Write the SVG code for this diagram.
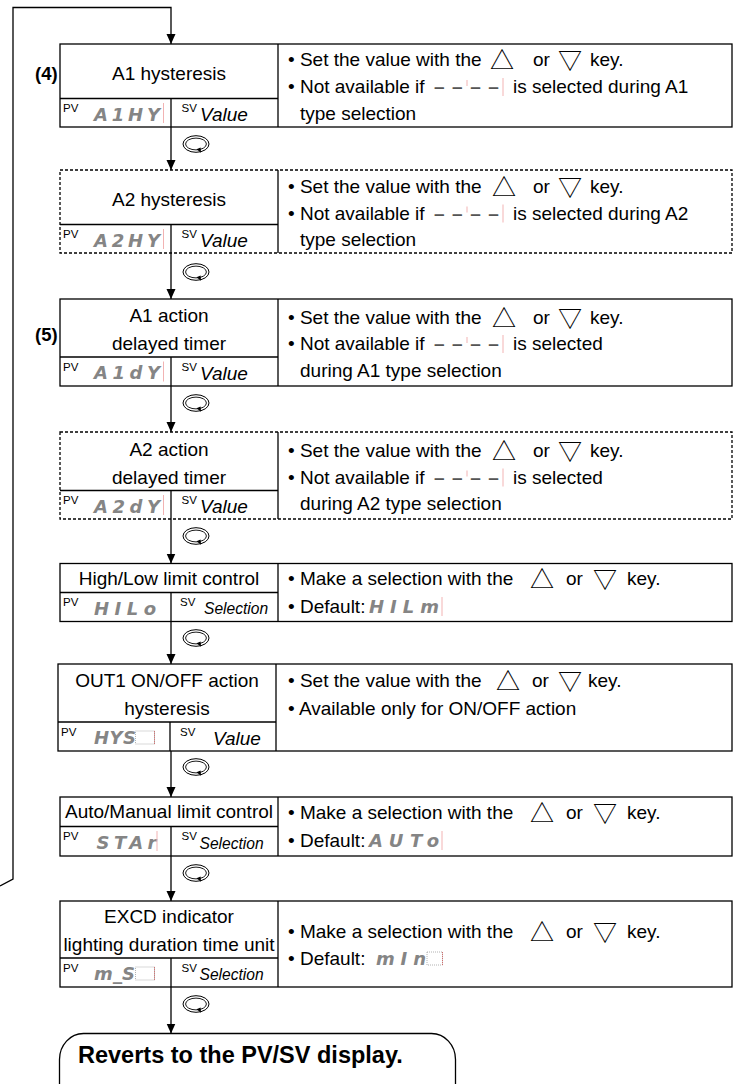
<svg xmlns="http://www.w3.org/2000/svg" xmlns:xlink="http://www.w3.org/1999/xlink" width="741" height="1084" viewBox="0 0 741 1084">
<style>
.t{font-family:"Liberation Sans",Arial,sans-serif;font-size:19px;fill:#000}
.c{text-anchor:middle}
.b{font-weight:bold}
.it{font-family:"Liberation Sans",Arial,sans-serif;font-style:italic;font-size:19px;fill:#000}
.sel{font-family:"Liberation Sans",Arial,sans-serif;font-style:italic;font-size:15.6px;fill:#000}
.sup{font-family:"Liberation Sans",Arial,sans-serif;font-size:11.5px;fill:#000}
.seg{font-family:"DejaVu Sans",sans-serif;font-style:oblique;font-weight:bold;font-size:18px;fill:#858585}
.dash{font-family:"Liberation Sans",Arial,sans-serif;font-size:19px;font-weight:bold;fill:#555;letter-spacing:7.5px}
.tri{font-family:"Noto Sans CJK JP","DejaVu Sans",sans-serif;font-size:24px}
.num{font-family:"Liberation Sans",Arial,sans-serif;font-size:18.5px;font-weight:bold;fill:#000}
.box{fill:#fff;stroke:#000;stroke-width:1.3}
.dot{stroke-dasharray:3 2}
.ln{fill:none;stroke:#000;stroke-width:1.3}
.pink{stroke:#f2b3b3;stroke-width:1}
.blank{fill:none;stroke:#a0a0a0;stroke-width:0.8;stroke-dasharray:1 1}
.blankr{stroke:#d05050;stroke-width:0.8;stroke-dasharray:1 1}
</style>
<defs>
<marker id="ah" markerUnits="userSpaceOnUse" markerWidth="10" markerHeight="10" refX="10" refY="5" orient="auto" viewBox="0 0 10 10">
<path d="M0,0.5 L10,5 L0,9.5 z" fill="#000"/>
</marker>
<g id="ring">
<ellipse cx="0" cy="0" rx="13" ry="8.3" fill="none" stroke="#000" stroke-width="1"/>
<ellipse cx="0" cy="0" rx="10.4" ry="5.9" fill="none" stroke="#000" stroke-width="0.9"/>
<path d="M0.5,5.2 L5,8.8 L4.6,3.6 z" fill="#000"/>
</g>
</defs>

<g id="connectors">
<path class="ln" d="M0,886 L13,879 L13,7.5 L171,7.5 L171,44" marker-end="url(#ah)"/>
<line class="ln" x1="171" y1="127" x2="171" y2="170" marker-end="url(#ah)"/>
<line class="ln" x1="171" y1="253" x2="171" y2="299" marker-end="url(#ah)"/>
<line class="ln" x1="171" y1="386" x2="171" y2="432" marker-end="url(#ah)"/>
<line class="ln" x1="171" y1="519" x2="171" y2="563.5" marker-end="url(#ah)"/>
<line class="ln" x1="171" y1="621.5" x2="171" y2="664" marker-end="url(#ah)"/>
<line class="ln" x1="171" y1="751" x2="171" y2="797" marker-end="url(#ah)"/>
<line class="ln" x1="171" y1="856" x2="171" y2="901" marker-end="url(#ah)"/>
<line class="ln" x1="171" y1="987" x2="171" y2="1033.5" marker-end="url(#ah)"/>
<use xlink:href="#ring" x="196" y="144"/>
<use xlink:href="#ring" x="196" y="272"/>
<use xlink:href="#ring" x="196" y="403"/>
<use xlink:href="#ring" x="196" y="536"/>
<use xlink:href="#ring" x="196" y="638"/>
<use xlink:href="#ring" x="196" y="767"/>
<use xlink:href="#ring" x="196" y="873"/>
<use xlink:href="#ring" x="196" y="1004"/>
</g>

<g id="n-a1-hysteresis">
<rect class="box" x="60" y="44" width="672" height="83"/>
<line class="ln" x1="278" y1="44" x2="278" y2="127"/>
<line class="ln" x1="60" y1="98.5" x2="278" y2="98.5"/>
<line class="ln" x1="171" y1="98.5" x2="171" y2="127"/>
<text class="num" x="35" y="80">(4)</text>
<text class="t c" x="169" y="80">A1 hysteresis</text>
<text class="sup" x="63" y="112">PV</text>
<text class="seg" x="94" y="120.5" textLength="66" lengthAdjust="spacing">A1HY</text>
<line class="pink" x1="163.5" y1="103" x2="163.5" y2="123"/>
<text class="sup" x="181.5" y="112">SV</text>
<text class="it" x="200" y="121">Value</text>
<text class="t" x="288" y="66">• Set the value with the<tspan class="tri" x="490" y="69.4">△</tspan><tspan x="533" y="66">or</tspan><tspan class="tri" x="558" y="69.4">▽</tspan><tspan x="590" y="66">key.</tspan></text>
<text class="t" x="288" y="93">• Not available if<tspan x="513">is selected during A1</tspan></text>
<text class="dash" x="434" y="93">––––</text>
<line class="pink" x1="467" y1="80" x2="467" y2="86"/>
<line class="pink" x1="503" y1="78" x2="503" y2="96"/>
<text class="t" x="300" y="120">type selection</text>
</g>

<g id="n-a2-hysteresis">
<rect class="box dot" x="60" y="170" width="672" height="83"/>
<line class="ln" x1="278" y1="170" x2="278" y2="253"/>
<line class="ln" x1="60" y1="224.5" x2="278" y2="224.5"/>
<line class="ln" x1="171" y1="224.5" x2="171" y2="253"/>
<text class="t c" x="169" y="206">A2 hysteresis</text>
<text class="sup" x="63" y="238">PV</text>
<text class="seg" x="94" y="246.5" textLength="66" lengthAdjust="spacing">A2HY</text>
<line class="pink" x1="163.5" y1="229" x2="163.5" y2="249"/>
<text class="sup" x="181.5" y="238">SV</text>
<text class="it" x="200" y="247">Value</text>
<text class="t" x="288" y="193">• Set the value with the<tspan class="tri" x="492" y="196.4">△</tspan><tspan x="533" y="193">or</tspan><tspan class="tri" x="558" y="196.4">▽</tspan><tspan x="590" y="193">key.</tspan></text>
<text class="t" x="288" y="219.5">• Not available if<tspan x="513">is selected during A2</tspan></text>
<text class="dash" x="434" y="219.5">––––</text>
<line class="pink" x1="467" y1="206.5" x2="467" y2="212.5"/>
<line class="pink" x1="503" y1="204.5" x2="503" y2="222.5"/>
<text class="t" x="300" y="246">type selection</text>
</g>

<g id="n-a1-delay-timer">
<rect class="box" x="60" y="299" width="672" height="87"/>
<line class="ln" x1="278" y1="299" x2="278" y2="386"/>
<line class="ln" x1="60" y1="357" x2="278" y2="357"/>
<line class="ln" x1="171" y1="357" x2="171" y2="386"/>
<text class="num" x="35" y="341">(5)</text>
<text class="t c" x="169" y="322">A1 action</text>
<text class="t c" x="169" y="350">delayed timer</text>
<text class="sup" x="63" y="370.5">PV</text>
<text class="seg" x="94" y="379" textLength="66" lengthAdjust="spacing">A1dY</text>
<line class="pink" x1="163.5" y1="361.5" x2="163.5" y2="381.5"/>
<text class="sup" x="181.5" y="370.5">SV</text>
<text class="it" x="200" y="379.5">Value</text>
<text class="t" x="288" y="323.5">• Set the value with the<tspan class="tri" x="492" y="326.9">△</tspan><tspan x="533" y="323.5">or</tspan><tspan class="tri" x="558" y="326.9">▽</tspan><tspan x="590" y="323.5">key.</tspan></text>
<text class="t" x="288" y="350">• Not available if<tspan x="513">is selected</tspan></text>
<text class="dash" x="434" y="350">––––</text>
<line class="pink" x1="467" y1="337" x2="467" y2="343"/>
<line class="pink" x1="503" y1="335" x2="503" y2="353"/>
<text class="t" x="300" y="377">during A1 type selection</text>
</g>

<g id="n-a2-delay-timer">
<rect class="box dot" x="60" y="432" width="672" height="87"/>
<line class="ln" x1="278" y1="432" x2="278" y2="519"/>
<line class="ln" x1="60" y1="490.5" x2="278" y2="490.5"/>
<line class="ln" x1="171" y1="490.5" x2="171" y2="519"/>
<text class="t c" x="169" y="455.5">A2 action</text>
<text class="t c" x="169" y="483.5">delayed timer</text>
<text class="sup" x="63" y="504">PV</text>
<text class="seg" x="94" y="512.5" textLength="66" lengthAdjust="spacing">A2dY</text>
<line class="pink" x1="163.5" y1="495" x2="163.5" y2="515"/>
<text class="sup" x="181.5" y="504">SV</text>
<text class="it" x="200" y="513">Value</text>
<text class="t" x="288" y="457">• Set the value with the<tspan class="tri" x="492" y="460.4">△</tspan><tspan x="533" y="457">or</tspan><tspan class="tri" x="558" y="460.4">▽</tspan><tspan x="590" y="457">key.</tspan></text>
<text class="t" x="288" y="483.5">• Not available if<tspan x="513">is selected</tspan></text>
<text class="dash" x="434" y="483.5">––––</text>
<line class="pink" x1="467" y1="470.5" x2="467" y2="476.5"/>
<line class="pink" x1="503" y1="468.5" x2="503" y2="486.5"/>
<text class="t" x="300" y="510">during A2 type selection</text>
</g>

<g id="n-high-low-limit">
<rect class="box" x="60" y="563.5" width="672" height="58"/>
<line class="ln" x1="278" y1="563.5" x2="278" y2="621.5"/>
<line class="ln" x1="60" y1="592.5" x2="278" y2="592.5"/>
<line class="ln" x1="171" y1="592.5" x2="171" y2="621.5"/>
<text class="t c" x="169" y="585">High/Low limit control</text>
<text class="sup" x="63" y="606">PV</text>
<text class="seg" x="94" y="614.5" textLength="62" lengthAdjust="spacing">HILo</text>
<text class="sup" x="180" y="606">SV</text>
<text class="sel" x="204" y="614">Selection</text>
<text class="t" x="288" y="585">• Make a selection with the<tspan class="tri" x="530" y="588.4">△</tspan><tspan x="566" y="585">or</tspan><tspan class="tri" x="593" y="588.4">▽</tspan><tspan x="627" y="585">key.</tspan></text>
<text class="t" x="288" y="613">• Default:</text>
<text class="seg" x="369" y="613" textLength="70" lengthAdjust="spacing">HILm</text>
<line class="pink" x1="442" y1="597" x2="442" y2="616"/>
</g>

<g id="n-out1-hysteresis">
<rect class="box" x="58" y="664" width="674" height="87"/>
<line class="ln" x1="276" y1="664" x2="276" y2="751"/>
<line class="ln" x1="58" y1="722" x2="276" y2="722"/>
<line class="ln" x1="170" y1="722" x2="170" y2="751"/>
<text class="t c" x="167" y="687">OUT1 ON/OFF action</text>
<text class="t c" x="167" y="715">hysteresis</text>
<text class="sup" x="61" y="735.5">PV</text>
<text class="seg" x="94" y="744" textLength="42" lengthAdjust="spacing">HYS</text>
<rect class="blank" x="135.5" y="731" width="19" height="13"/>
<line class="blankr" x1="154.5" y1="731" x2="154.5" y2="744"/>
<text class="sup" x="180" y="735.5">SV</text>
<text class="it" x="213" y="744.5">Value</text>
<text class="t" x="288" y="687">• Set the value with the<tspan class="tri" x="496" y="690.4">△</tspan><tspan x="532" y="687">or</tspan><tspan class="tri" x="558" y="690.4">▽</tspan><tspan x="588" y="687">key.</tspan></text>
<text class="t" x="288" y="715">• Available only for ON/OFF action</text>
</g>

<g id="n-auto-manual-limit">
<rect class="box" x="60" y="797" width="672" height="59"/>
<line class="ln" x1="278" y1="797" x2="278" y2="856"/>
<line class="ln" x1="60" y1="826.5" x2="278" y2="826.5"/>
<line class="ln" x1="171" y1="826.5" x2="171" y2="856"/>
<text class="t c" x="169" y="818">Auto/Manual limit control</text>
<text class="sup" x="63" y="840">PV</text>
<text class="seg" x="96.5" y="848.5" textLength="60" lengthAdjust="spacing">STAr</text>
<line class="pink" x1="157" y1="831" x2="157" y2="851"/>
<text class="sup" x="181.5" y="840">SV</text>
<text class="sel" x="199.5" y="849">Selection</text>
<text class="t" x="288" y="818.5">• Make a selection with the<tspan class="tri" x="530" y="821.9">△</tspan><tspan x="566" y="818.5">or</tspan><tspan class="tri" x="593" y="821.9">▽</tspan><tspan x="627" y="818.5">key.</tspan></text>
<text class="t" x="288" y="847">• Default:</text>
<text class="seg" x="369" y="847" textLength="70" lengthAdjust="spacing">AUTo</text>
<line class="pink" x1="442" y1="831" x2="442" y2="850"/>
</g>

<g id="n-excd-time-unit">
<rect class="box" x="60" y="901" width="672" height="86"/>
<line class="ln" x1="278" y1="901" x2="278" y2="987"/>
<line class="ln" x1="60" y1="958" x2="278" y2="958"/>
<line class="ln" x1="171" y1="958" x2="171" y2="987"/>
<text class="t c" x="169" y="923">EXCD indicator</text>
<text class="t c" x="169" y="951">lighting duration time unit</text>
<text class="sup" x="63" y="971.5">PV</text>
<text class="seg" x="94" y="980" textLength="41" lengthAdjust="spacing">m_S</text>
<rect class="blank" x="135.5" y="967" width="19" height="13"/>
<line class="blankr" x1="154.5" y1="967" x2="154.5" y2="980"/>
<text class="sup" x="181.5" y="971.5">SV</text>
<text class="sel" x="199.5" y="980">Selection</text>
<text class="t" x="288" y="937.5">• Make a selection with the<tspan class="tri" x="530" y="940.9">△</tspan><tspan x="566" y="937.5">or</tspan><tspan class="tri" x="593" y="940.9">▽</tspan><tspan x="627" y="937.5">key.</tspan></text>
<text class="t" x="288" y="965">• Default:</text>
<text class="seg" x="376" y="965" textLength="50" lengthAdjust="spacing">mIn</text>
<rect class="blank" x="427" y="952" width="15.5" height="13"/>
<line class="blankr" x1="442.5" y1="952" x2="442.5" y2="965"/>
</g>

<g id="n-revert">
<rect class="box" x="59.5" y="1033.5" width="396" height="90" rx="24" ry="26"/>
<text class="t b" x="78" y="1063" style="font-size:23.5px">Reverts to the PV/SV display.</text>
</g>
</svg>
